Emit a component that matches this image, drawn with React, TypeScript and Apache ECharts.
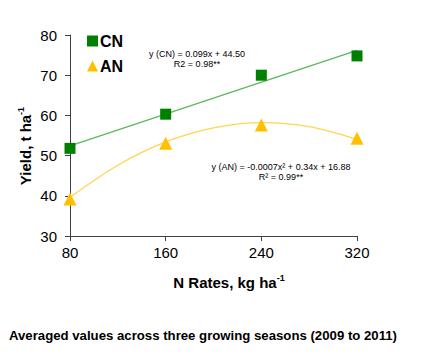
import React, { useEffect, useRef } from "react";
import * as echarts from "echarts";

const nRates = [80, 160, 240, 320];
const cnYield = [51.8, 60.3, 70.0, 74.8];
const anYield = [39.2, 53.1, 57.6, 54.3];
// trend lines
const cnTrendX = [80, 320];
const cnTrendY = [52.4, 76.2];
const anTrendX = [80, 120, 160, 200, 240, 280, 320];
const anTrendY = [39.6, 47.6, 53.4, 56.9, 58.2, 57.2, 54.0];
const xTicks = [80, 160, 240, 320];
const yTicks = [30, 40, 50, 60, 70, 80];

const FONT = "Liberation Sans, Arial, sans-serif";
const CN_COLOR = "#008000";
const CN_LINE = "#5cb85c";
const AN_COLOR = "#ffc000";
const AN_LINE = "#ffd54f";

export default function App() {
  const ref = useRef<HTMLDivElement>(null);
  useEffect(() => {
    if (!ref.current) return;
    const chart = echarts.init(ref.current, null, { renderer: "svg" });
    const zip = (xs: number[], ys: number[]) => xs.map((x, i) => [x, ys[i]]);
    chart.setOption({
      animation: false,
      backgroundColor: "#ffffff",
      textStyle: { fontFamily: FONT },
      grid: { left: 70, right: 66, top: 35, bottom: 123 },
      legend: {
        orient: "vertical",
        left: 82,
        top: 28,
        itemWidth: 11,
        itemHeight: 11,
        itemGap: 9,
        textStyle: { fontFamily: FONT, fontSize: 16, fontWeight: "bold", color: "#000", padding: [0, 0, 0, -3] },
        data: [
          { name: "CN", icon: "rect", itemStyle: { color: CN_COLOR, opacity: 1 } },
          { name: "AN", icon: "triangle", itemStyle: { color: AN_COLOR, opacity: 1 } },
        ],
      },
      xAxis: {
        type: "value",
        min: xTicks[0],
        max: xTicks[xTicks.length - 1],
        interval: 80,
        axisLine: { lineStyle: { color: "#404040", width: 1 } },
        axisTick: { show: true, length: 5, lineStyle: { color: "#404040" } },
        axisLabel: { fontSize: 15, color: "#000", margin: 9, fontFamily: FONT },
        splitLine: { show: false },
      },
      yAxis: {
        type: "value",
        min: yTicks[0],
        max: yTicks[yTicks.length - 1],
        interval: 10,
        axisLine: { show: true, lineStyle: { color: "#404040", width: 1 } },
        axisTick: { show: true, length: 5, lineStyle: { color: "#404040" } },
        axisLabel: { fontSize: 15, color: "#000", margin: 13, fontFamily: FONT },
        splitLine: { show: false },
      },
      series: [
        {
          name: "CN trend",
          type: "line",
          data: zip(cnTrendX, cnTrendY),
          showSymbol: false,
          symbol: "none",
          lineStyle: { color: CN_LINE, width: 1.3 },
          silent: true,
          z: 1,
        },
        {
          name: "AN trend",
          type: "line",
          data: zip(anTrendX, anTrendY),
          smooth: 0.35,
          showSymbol: false,
          symbol: "none",
          lineStyle: { color: AN_LINE, width: 1.3 },
          silent: true,
          z: 1,
        },
        {
          name: "CN",
          type: "scatter",
          data: zip(nRates, cnYield),
          symbol: "rect",
          symbolSize: 11,
          itemStyle: { color: CN_COLOR, opacity: 1 },
          z: 3,
        },
        {
          name: "AN",
          type: "scatter",
          data: zip(nRates, anYield),
          symbol: "triangle",
          symbolSize: 13,
          itemStyle: { color: AN_COLOR, opacity: 1 },
          z: 3,
        },
      ],
      graphic: [
        {
          type: "text",
          x: 25,
          y: 146,
          rotation: Math.PI / 2,
          style: {
            text: "{b|Yield, t ha}{s|-1}",
            align: "center",
            verticalAlign: "middle",
            rich: {
              b: { fontFamily: FONT, fontSize: 15, fontWeight: "bold", fill: "#000" },
              s: { fontFamily: FONT, fontSize: 9, fontWeight: "bold", fill: "#000", verticalAlign: "top", padding: [0, 0, 8, 0] },
            },
          },
        },
        {
          type: "text",
          x: 229,
          y: 282,
          style: {
            text: "{b|N Rates, kg ha}{s|-1}",
            align: "center",
            verticalAlign: "middle",
            rich: {
              b: { fontFamily: FONT, fontSize: 15, fontWeight: "bold", fill: "#000" },
              s: { fontFamily: FONT, fontSize: 9, fontWeight: "bold", fill: "#000", verticalAlign: "top", padding: [0, 0, 8, 0] },
            },
          },
        },
        {
          type: "text",
          x: 197,
          y: 59,
          style: {
            text: "y (CN) = 0.099x + 44.50\nR2 = 0.98**",
            align: "center",
            verticalAlign: "middle",
            fontFamily: FONT,
            fontSize: 9,
            lineHeight: 10,
            fill: "#000",
          },
        },
        {
          type: "text",
          x: 281,
          y: 172,
          style: {
            text: "y (AN) = -0.0007x² + 0.34x + 16.88\nR² = 0.99**",
            align: "center",
            verticalAlign: "middle",
            fontFamily: FONT,
            fontSize: 9,
            lineHeight: 10,
            fill: "#000",
          },
        },
        {
          type: "text",
          x: 9,
          y: 335,
          style: {
            text: "Averaged values across three growing seasons (2009 to 2011)",
            align: "left",
            verticalAlign: "middle",
            fontFamily: FONT,
            fontSize: 13.2,
            fontWeight: "bold",
            fill: "#000",
          },
        },
      ],
    });
    return () => chart.dispose();
  }, []);
  return (
    <div
      ref={ref}
      style={{ position: "fixed", left: 0, top: 0, width: 423, height: 359 }}
    />
  );
}
